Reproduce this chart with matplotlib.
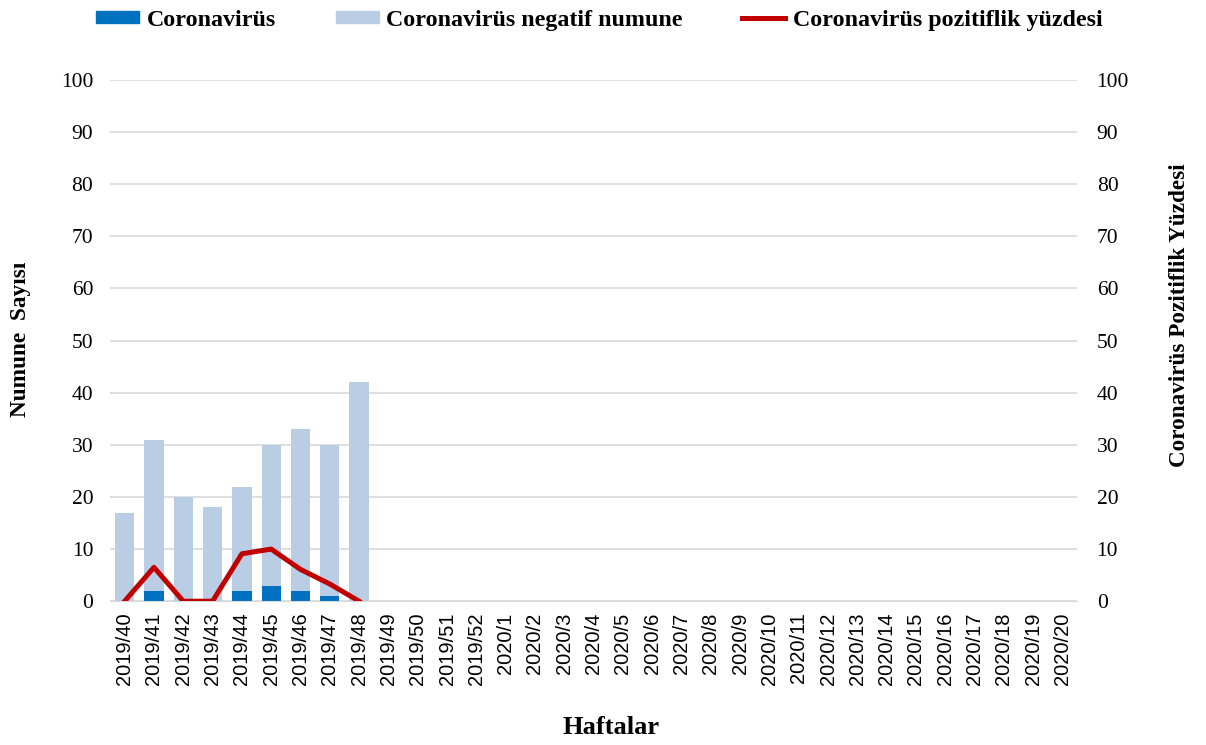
import matplotlib
matplotlib.use("Agg")
import matplotlib.pyplot as plt
from matplotlib.patches import Patch
from matplotlib.lines import Line2D

# Weekly sample counts
weeks = ["2019/40", "2019/41", "2019/42", "2019/43", "2019/44", "2019/45", "2019/46",
         "2019/47", "2019/48", "2019/49", "2019/50", "2019/51", "2019/52"] + \
        ["2020/%d" % i for i in range(1, 21)]
positive = [0, 2, 0, 0, 2, 3, 2, 1, 0]
negative = [17, 29, 20, 18, 20, 27, 31, 29, 42]
percent = [0, 6.5, 0, 0, 9.1, 10, 6.1, 3.3, 0]

dark_blue = "#0070C0"
light_blue = "#B9CDE5"
red = "#C00000"
serif = "Liberation Serif"
sans = "Liberation Sans"

fig = plt.figure(figsize=(12.06, 7.45), dpi=100)
ax = fig.add_axes([0.0912, 0.193, 0.802, 0.6996])

x = list(range(len(weeks)))
n = len(positive)
ax.bar(x[:n], positive, width=0.66, color=dark_blue, zorder=2)
ax.bar(x[:n], negative, width=0.66, bottom=positive, color=light_blue, zorder=2)

ax.set_xlim(-0.5, len(weeks) - 0.5)
ax.set_ylim(0, 100)
ax.set_yticks(range(0, 101, 10))
ax.grid(axis="y", color="#D9D9D9", linewidth=1.2, zorder=0)
for s in ["top", "right", "left"]:
    ax.spines[s].set_visible(False)
ax.spines["bottom"].set_color("#D9D9D9")
ax.tick_params(axis="both", length=0)
ax.tick_params(axis="y", pad=12)
ax.tick_params(axis="x", pad=8)
ax.set_xticks(x)
ax.set_xticklabels(weeks, rotation=90, fontfamily=sans, fontsize=14.5)
for lbl in ax.get_yticklabels():
    lbl.set_fontfamily(serif)
    lbl.set_fontsize(15.5)

ax2 = ax.twinx()
ax2.set_ylim(0, 100)
ax2.set_yticks(range(0, 101, 10))
for s in ["top", "right", "left", "bottom"]:
    ax2.spines[s].set_visible(False)
ax2.tick_params(axis="y", length=0, pad=14)
for lbl in ax2.get_yticklabels():
    lbl.set_fontfamily(serif)
    lbl.set_fontsize(15.5)
ax2.plot(x[:n], percent, color=red, linewidth=3.6, zorder=3)

fig.text(0.017, 0.544, "Numune  Sayısı", rotation=90, ha="center", va="center",
         fontfamily=serif, fontweight="bold", fontsize=16.8)
fig.text(0.978, 0.577, "Coronavirüs Pozitiflik Yüzdesi", rotation=90, ha="center", va="center",
         fontfamily=serif, fontweight="bold", fontsize=16.7)
fig.text(0.507, 0.023, "Haftalar", ha="center", va="center",
         fontfamily=serif, fontweight="bold", fontsize=19)

# Legend entries placed one by one along the top
entries = [
    (Patch(color=dark_blue), "Coronavirüs", 0.0796),
    (Patch(color=light_blue), "Coronavirüs negatif numune", 0.2786),
    (Line2D([], [], color=red, linewidth=3.6), "Coronavirüs pozitiflik yüzdesi", 0.6153),
]
for handle, label, xpos in entries:
    fig.legend([handle], [label], loc="center left", bbox_to_anchor=(xpos, 0.973),
               frameon=False, prop={"family": serif, "weight": "bold", "size": 17.3},
               handlelength=1.8, handleheight=0.38, handletextpad=0.3,
               borderpad=0, borderaxespad=0)

fig.savefig("out.png", dpi=100)
